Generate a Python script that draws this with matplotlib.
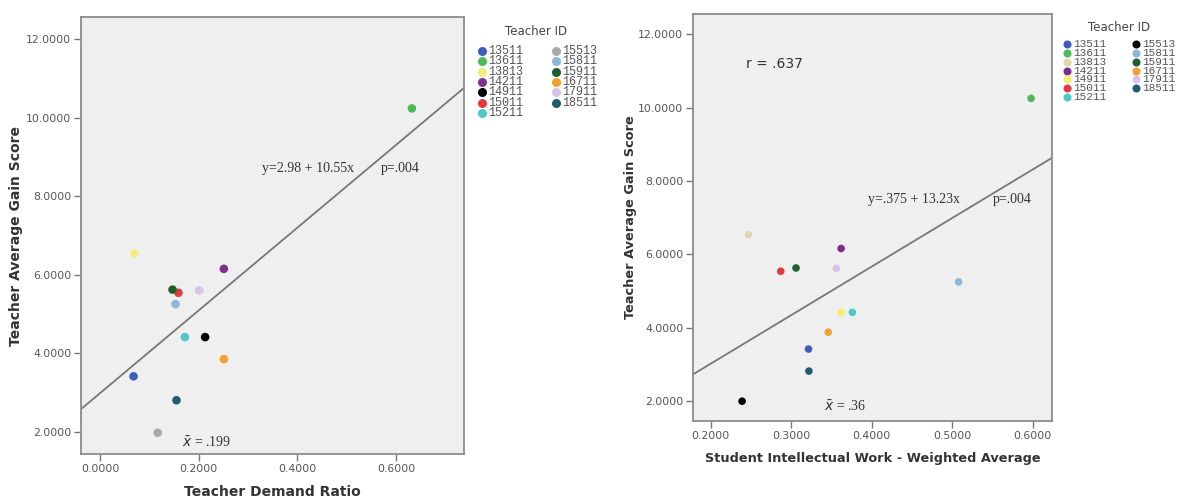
import matplotlib.pyplot as plt

teacher_ids = ['13511', '13611', '13813', '14211', '14911', '15011', '15211',
               '15513', '15811', '15911', '16711', '17911', '18511']

# left panel: teacher demand ratio vs gain
demand_x = [0.068, 0.632, 0.070, 0.251, 0.213, 0.159, 0.172,
            0.117, 0.153, 0.147, 0.251, 0.201, 0.155]
demand_y = [3.41, 10.24, 6.54, 6.15, 4.41, 5.54, 4.41,
            1.97, 5.25, 5.62, 3.85, 5.60, 2.80]
left_colors = ['#3e5cb8', '#4cba5a', '#f3ec7c', '#7d2f8c', '#000000', '#e23b3f', '#4ec8c8',
               '#a9a9a9', '#8db6da', '#1f5f2f', '#f0a131', '#d9c3ea', '#1f5e70']

# right panel: student intellectual work vs gain
siw_x = [0.3215, 0.598, 0.247, 0.362, 0.362, 0.287, 0.376,
         0.239, 0.508, 0.306, 0.346, 0.356, 0.322]
siw_y = [3.42, 10.25, 6.54, 6.16, 4.42, 5.54, 4.42,
         2.00, 5.25, 5.63, 3.88, 5.62, 2.82]
right_colors = ['#3e5cb8', '#4cba5a', '#dcd7ac', '#7d2f8c', '#f5ec72', '#e23b3f', '#4ec8c8',
                '#000000', '#8db6da', '#1f5f2f', '#f0a131', '#d9c3ea', '#1f5e70']

left_fit = (2.98, 10.55)
right_fit = (0.375, 13.23)

W, H = 1177, 498
fig = plt.figure(figsize=(W / 100, H / 100), dpi=100)

# overlay in pixel units for the legends
overlay = fig.add_axes([0, 0, 1, 1])
overlay.set_xlim(0, W)
overlay.set_ylim(H, 0)
overlay.axis('off')


def px_axes(x0, y0, x1, y1):
    return fig.add_axes([x0 / W, 1 - y1 / H, (x1 - x0) / W, (y1 - y0) / H])


def style(ax, xticks, xlim, ylim):
    ax.set_facecolor('#efefef')
    for s in ax.spines.values():
        s.set_color('#8c8c8c')
        s.set_linewidth(1.3)
    ax.set_xlim(*xlim)
    ax.set_ylim(*ylim)
    ax.set_xticks(xticks)
    ax.set_xticklabels([f'{t:.4f}' for t in xticks])
    yt = [2, 4, 6, 8, 10, 12]
    ax.set_yticks(yt)
    ax.set_yticklabels([f'{t:.4f}' for t in yt])
    ax.tick_params(direction='out', length=5, width=1, color='#777777',
                   labelsize=7.8, labelcolor='#555555', pad=2)


def draw_fit(ax, fit, xlim):
    a, b = fit
    ax.plot(list(xlim), [a + b * xlim[0], a + b * xlim[1]], color='#777777', lw=1.3, zorder=2)


def draw_legend(colors, title_xy, x_cols, y0, dy, msize, fsize):
    overlay.text(title_xy[0], title_xy[1], 'Teacher ID', fontsize=8.5, color='#444444',
                 ha='center', va='center')
    for i, (tid, c) in enumerate(zip(teacher_ids, colors)):
        x = x_cols[i // 7]
        y = y0 + dy * (i % 7)
        overlay.plot([x], [y], 'o', color=c, markersize=msize, mew=0)
        overlay.text(x + 6.5, y, tid, fontsize=fsize, family='Liberation Mono',
                     color='#555555', va='center', ha='left')


# left panel
ax1 = px_axes(81, 17, 464, 454)
xl1 = (-0.0385, 0.7376)
style(ax1, [0.0, 0.2, 0.4, 0.6], xl1, (1.43, 12.57))
draw_fit(ax1, left_fit, xl1)
ax1.scatter(demand_x, demand_y, c=left_colors, s=38, zorder=3, linewidths=0)
ax1.set_xlabel('Teacher Demand Ratio', fontsize=10, fontweight='bold', color='#333333', labelpad=8)
ax1.set_ylabel('Teacher Average Gain Score', fontsize=10, fontweight='bold', color='#333333', labelpad=2)
ax1.text(0.328, 8.72, 'y=2.98 + 10.55x', family='Liberation Serif', fontsize=10, color='#333333', va='center')
ax1.text(0.569, 8.72, 'p=.004', family='Liberation Serif', fontsize=10, color='#333333', va='center')
ax1.text(0.166, 1.73, r'$\bar{x}$ = .199', family='Liberation Serif', fontsize=10, color='#333333', va='center')
draw_legend(left_colors, (536, 31), (482, 556), 51, 10.3, 6.5, 8.5)

# right panel
ax2 = px_axes(693, 14, 1052, 421)
xl2 = (0.178, 0.624)
style(ax2, [0.2, 0.3, 0.4, 0.5, 0.6], xl2, (1.46, 12.55))
draw_fit(ax2, right_fit, xl2)
ax2.scatter(siw_x, siw_y, c=right_colors, s=30, zorder=3, linewidths=0)
ax2.set_xlabel('Student Intellectual Work - Weighted Average', fontsize=9.3, fontweight='bold', color='#333333', labelpad=8)
ax2.set_ylabel('Teacher Average Gain Score', fontsize=9.3, fontweight='bold', color='#333333', labelpad=1)
ax2.text(0.244, 11.19, 'r = .637', fontsize=10, color='#333333', va='center')
ax2.text(0.396, 7.49, 'y=.375 + 13.23x', family='Liberation Serif', fontsize=10, color='#333333', va='center')
ax2.text(0.551, 7.49, 'p=.004', family='Liberation Serif', fontsize=10, color='#333333', va='center')
ax2.text(0.341, 1.85, r'$\bar{x}$ = .36', family='Liberation Serif', fontsize=10, color='#333333', va='center')
draw_legend(right_colors, (1119, 27), (1067, 1136), 44.3, 8.75, 5.8, 8)

fig.savefig('out.png', dpi=100)
